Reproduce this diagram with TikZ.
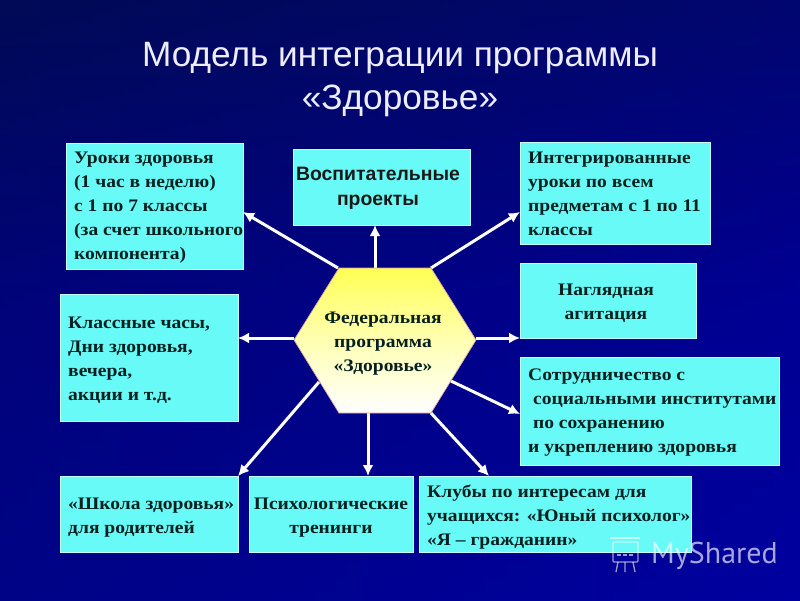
\documentclass[tikz,border=0pt]{standalone}
\usepackage{fontspec}
\setmainfont[FakeStretch=1.11]{Liberation Serif}
\newfontfamily\arial{Liberation Sans}
\newfontfamily\ptsans{PT Sans}
\usetikzlibrary{arrows.meta,calc}
\definecolor{bgtop}{HTML}{000A55}
\definecolor{bgmid}{HTML}{00008C}
\definecolor{bgbot}{HTML}{0000A0}
\definecolor{boxc}{HTML}{68FAF6}
\definecolor{inkc}{HTML}{062020}
\definecolor{hexy}{HTML}{FFFF55}
\definecolor{hexb}{HTML}{D8A0A0}
\tikzset{
 x=1pt,y=-1pt,
 txt/.style={anchor=west,align=left,inner sep=0pt,font=\fontsize{17.6}{24}\selectfont\bfseries,text=inkc},
 ctxt/.style={align=center,inner sep=0pt,font=\fontsize{17.6}{24}\selectfont\bfseries,text=inkc},
 link/.style={draw=white,line width=3pt,-{Latex[length=11pt,width=11pt]}}
}
\newcommand{\bx}[5]{\path[fill=boxc,draw=white!60!boxc,line width=.6pt] (#2,#3) rectangle (#4,#5); \coordinate (#1) at (#2,#3);}
\begin{document}
\begin{tikzpicture}
\useasboundingbox (0,0) rectangle (800,600);
\shade[top color=bgtop,bottom color=bgbot,middle color=bgmid] (0,0) rectangle (800,600);
\shade[left color=bgtop,right color=bgbot,opacity=.35] (0,0) rectangle (800,600);
\node[font=\arial\fontsize{35.2}{43}\selectfont,text=white!93!blue,align=center,inner sep=0pt] (title) at (400,80) {Модель интеграции программы\\«Здоровье»};
% boxes
\bx{b1}{66}{143}{243}{269}
\bx{b2}{293}{149}{470}{225}
\bx{b3}{520}{142}{710}{244}
\bx{b4}{520}{263}{696}{338}
\bx{b5}{520}{357}{779}{465}
\bx{b6}{419}{476}{691}{552}
\bx{b7}{249}{476}{413}{552}
\bx{b8}{60}{476}{238}{552}
\bx{b9}{60}{294}{238}{421}
% connector ends
\coordinate (s1) at (338,268); \coordinate (e1) at (243,212);
\coordinate (s2) at (375,268); \coordinate (e2) at (375,225);
\coordinate (s3) at (431,268); \coordinate (e3) at (520,212);
\coordinate (s4) at (476,338); \coordinate (e4) at (520,338);
\coordinate (s5) at (451,381); \coordinate (e5) at (520,414);
\coordinate (s6) at (431,413); \coordinate (e6) at (489,476);
\coordinate (s7) at (368,413); \coordinate (e7) at (368,476);
\coordinate (s8) at (319,382); \coordinate (e8) at (238,476);
\coordinate (s9) at (294,338); \coordinate (e9) at (238,338);
\foreach \i in {1,...,9} {\draw[link] (s\i) -- (e\i);}
% hexagon
\shade[top color=hexy,bottom color=white,middle color=white!55!hexy,draw=hexb,line width=.7pt]
 (339,268) -- (431,268) -- (476,340) -- (431,413) -- (339,413) -- (294,340) -- cycle;
\node[ctxt] (hex) at (383,344) {Федеральная\\программа\\«Здоровье»};
% box text
\node[txt] (t1) at (74,208) {Уроки здоровья\\(1 час в неделю)\\с 1 по 7 классы\\(за счет школьного\\компонента)};
\node[align=center,inner sep=0pt,font=\arial\fontsize{19.4}{25}\selectfont\bfseries,text=black!90] (t2) at (378,188) {Воспитательные\\проекты};
\node[txt] (t3) at (528,194) {Интегрированные\\уроки по всем\\предметам с 1 по 11\\классы};
\node[ctxt] (t4) at (606,303) {Наглядная\\агитация};
\node[txt] (t5) at (528,413) {Сотрудничество с\\\ социальными институтами\\\ по сохранению\\и укреплению здоровья};
\node[txt] (t6) at (427,517) {Клубы по интересам для\\учащихся: «Юный психолог»\\«Я – гражданин»};
\node[ctxt] (t7) at (331,518) {Психологические\\тренинги};
\node[txt] (t8) at (68,518) {«Школа здоровья»\\для родителей};
\node[txt] (t9) at (68,360) {Классные часы,\\Дни здоровья,\\вечера,\\акции и т.д.};
% watermark
\begin{scope}[draw=white,opacity=.6,line width=1.3pt]
\draw (610,538) -- (640,538);
\draw[rounded corners=1pt] (613,542) rectangle (638,562);
\draw (618,562) -- (616,572) (625,562) -- (625,572) (633,562) -- (635,572);
\draw[line width=2.5pt] (617,555) -- (621,555) (623,555) -- (627,555) (629,555) -- (633,555);
\end{scope}
\node[anchor=west,inner sep=0pt,font=\ptsans\fontsize{30}{30}\selectfont,text=white,opacity=.65] (wm) at (651,556) {MyShared};
\end{tikzpicture}
\end{document}
